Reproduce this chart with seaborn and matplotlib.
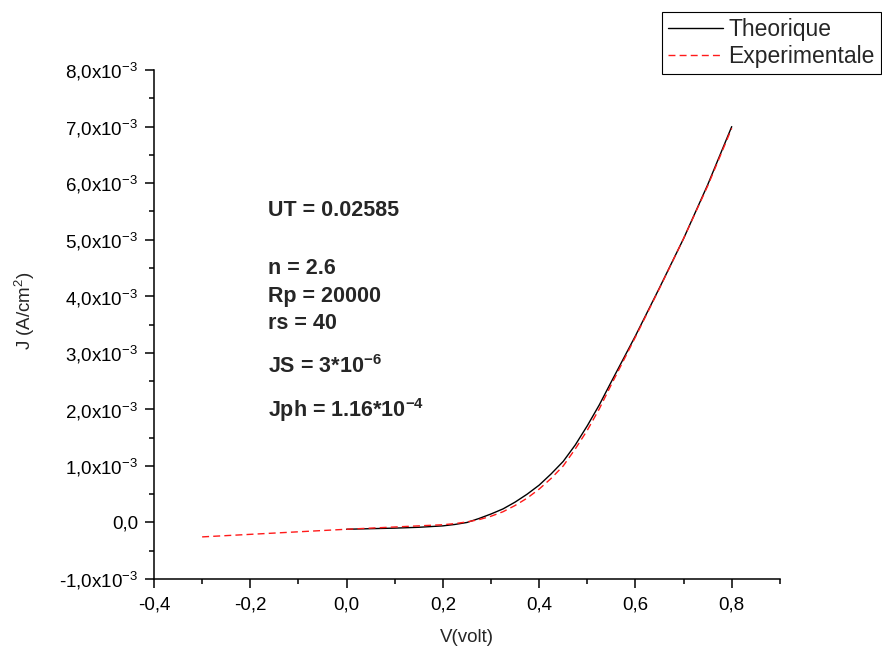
'''
J-V curve: theoretical vs experimental
'''
import matplotlib
matplotlib.use('Agg')
import matplotlib.pyplot as plt
from matplotlib.ticker import FixedLocator, FixedFormatter, MultipleLocator
import pandas as pd
import seaborn as sns

sns.set_style('ticks')
plt.rcParams['font.family'] = ['Liberation Sans', 'DejaVu Sans']
plt.rcParams['mathtext.fontset'] = 'custom'
plt.rcParams['mathtext.rm'] = 'Liberation Sans'
plt.rcParams['mathtext.it'] = 'Liberation Sans:italic'
plt.rcParams['mathtext.bf'] = 'Liberation Sans:bold'

# values (J in A/cm2)
v_theo = [0.0, 0.05, 0.1, 0.15, 0.2, 0.225, 0.25, 0.275, 0.3, 0.325, 0.35,
          0.375, 0.4, 0.425, 0.45, 0.475, 0.5, 0.525, 0.55, 0.6, 0.65, 0.7,
          0.75, 0.8]
j_theo = [-0.12, -0.11, -0.10, -0.085, -0.06, -0.035, 0.0, 0.07, 0.15, 0.24,
          0.36, 0.50, 0.66, 0.86, 1.08, 1.37, 1.71, 2.08, 2.49, 3.30, 4.15,
          5.02, 5.97, 7.00]

v_exp = [-0.3, -0.2, -0.1, 0.0, 0.05, 0.1, 0.15, 0.2, 0.225, 0.25, 0.275,
         0.3, 0.325, 0.35, 0.375, 0.4, 0.425, 0.45, 0.475, 0.5, 0.525, 0.55,
         0.6, 0.65, 0.7, 0.75, 0.8]
j_exp = [-0.255, -0.21, -0.165, -0.12, -0.10, -0.08, -0.06, -0.04, -0.02,
         0.01, 0.05, 0.11, 0.19, 0.30, 0.43, 0.59, 0.78, 1.00, 1.30, 1.63,
         2.01, 2.44, 3.28, 4.14, 5.02, 5.95, 6.97]

x_ticks = [-0.4, -0.2, 0.0, 0.2, 0.4, 0.6, 0.8]
x_labels = ['-0,4', '-0,2', '0,0', '0,2', '0,4', '0,6', '0,8']
y_ticks = [-1e-3, 0.0, 1e-3, 2e-3, 3e-3, 4e-3, 5e-3, 6e-3, 7e-3, 8e-3]
y_labels = [r'-1,0x10$^{-3}$', '0,0'] + \
    [r'%d,0x10$^{-3}$' % k for k in range(1, 9)]

params = [
    ('UT = 0.02585', 0.725),
    ('n = 2.6', 0.611),
    ('Rp = 20000', 0.556),
    ('rs = 40', 0.503),
    (r'JS = 3*10$^{\mathbf{-6}}$', 0.4165),
    (r'Jph = 1.16*10$^{\mathbf{-4}}$', 0.332),
]


def main():
    theo = pd.DataFrame({'V': v_theo, 'J': [j * 1e-3 for j in j_theo]})
    exp = pd.DataFrame({'V': v_exp, 'J': [j * 1e-3 for j in j_exp]})

    fig = plt.figure(figsize=(8.82, 6.5), dpi=100)
    ax = fig.add_axes([0.1746, 0.1092, 0.7096, 0.7830])

    sns.lineplot(data=theo, x='V', y='J', ax=ax, color='black',
                 linewidth=1.0, label='Theorique')
    sns.lineplot(data=exp, x='V', y='J', ax=ax, color='#ff1a1a',
                 linewidth=1.0, dashes=False, label='Experimentale')
    ax.lines[1].set_dashes((5, 3))

    ax.set_xlim(-0.4, 0.9)
    ax.set_ylim(-1e-3, 8e-3)
    ax.xaxis.set_major_locator(FixedLocator(x_ticks))
    ax.xaxis.set_major_formatter(FixedFormatter(x_labels))
    ax.xaxis.set_minor_locator(MultipleLocator(0.1))
    ax.yaxis.set_major_locator(FixedLocator(y_ticks))
    ax.yaxis.set_major_formatter(FixedFormatter(y_labels))
    ax.yaxis.set_minor_locator(MultipleLocator(0.5e-3))

    ax.tick_params(which='major', direction='out', length=6.5, width=1.1,
                   labelsize=13.5, color='black', labelcolor='black')
    ax.tick_params(axis='x', which='major', pad=6)
    ax.tick_params(axis='y', which='major', pad=5)
    ax.tick_params(which='minor', direction='out', length=3.5, width=1.1,
                   color='black')
    sns.despine(ax=ax)
    for s in ('left', 'bottom'):
        ax.spines[s].set_linewidth(1.1)
        ax.spines[s].set_color('black')

    ax.set_xlabel('V(volt)', fontsize=13.5)
    ax.set_ylabel(r'J (A/cm$^2$)', fontsize=13.5)
    ax.xaxis.set_label_coords(0.5, -0.098)
    ax.yaxis.set_label_coords(-0.187, 0.527)

    for txt, ypos in params:
        ax.text(0.182, ypos, txt, transform=ax.transAxes, fontsize=15.5,
                fontweight='bold', va='center', ha='left')

    leg = ax.legend(loc='upper left', bbox_to_anchor=(662 / 882, 1 - 12 / 650),
                    bbox_transform=fig.transFigure, fontsize=16.5,
                    frameon=True, fancybox=False, borderpad=0.25,
                    labelspacing=0.2, handlelength=2.4, handletextpad=0.25,
                    borderaxespad=0)
    leg.get_frame().set_edgecolor('black')
    leg.get_frame().set_linewidth(0.8)
    leg.get_frame().set_alpha(1)

    fig.savefig('out.png', dpi=100)


if __name__ == '__main__':
    main()
